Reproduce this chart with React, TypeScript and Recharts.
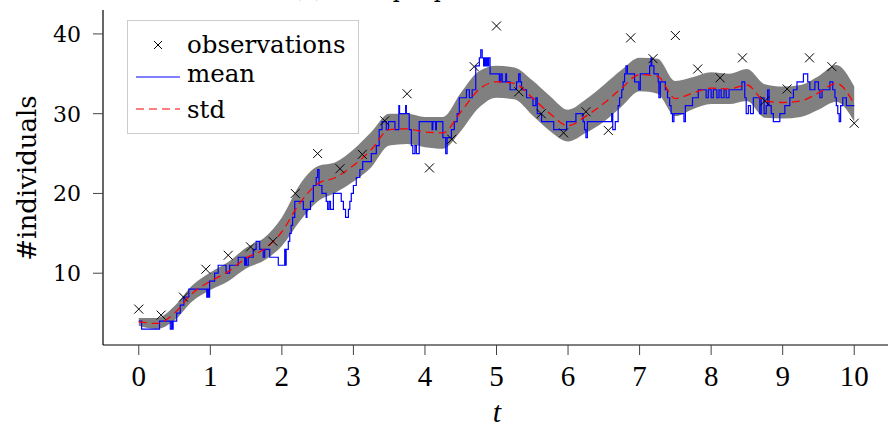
import React from 'react'
import { ComposedChart, Area, Line, Scatter, XAxis, YAxis } from 'recharts'

// smooth curve grid
const gridT = [0, 0.25, 0.5, 0.75, 1, 1.25, 1.5, 1.75, 2, 2.25, 2.5, 2.75, 3, 3.25, 3.5, 3.75, 4, 4.25, 4.5, 4.75, 5,
  5.25, 5.5, 5.75, 6, 6.25, 6.5, 6.75, 7, 7.25, 7.5, 7.75, 8, 8.25, 8.5, 8.75, 9, 9.25, 9.5, 9.75, 10]
const meanVals = [3.9, 3.7, 5.0, 7.5, 9.0, 10.2, 11.9, 13.0, 15.2, 18.8, 21.2, 22.0, 23.5, 25.5, 28.0, 28.1, 27.7,
  27.6, 30.2, 33.0, 34.0, 33.8, 32.0, 30.0, 28.5, 29.7, 31.3, 33.2, 34.9, 34.7, 31.9, 32.6, 33.2, 33.1, 33.6, 31.6,
  31.4, 31.6, 32.6, 33.8, 31.2]
const stdVals = [0.5, 0.7, 0.9, 1.0, 1.1, 1.2, 1.3, 1.4, 1.8, 2.3, 2.2, 1.9, 2.0, 2.2, 2.0, 1.9, 1.9, 2.0, 2.4, 2.3,
  2.0, 2.0, 2.2, 2.2, 2.0, 2.1, 2.3, 2.3, 2.1, 2.2, 2.2, 2.0, 2.0, 1.9, 2.0, 2.1, 2.0, 2.0, 2.1, 2.3, 2.2]

// one simulated path (step function)
const pathT = [0, 0.04, 0.29, 0.44, 0.46, 0.465, 0.48, 0.53, 0.58, 0.63, 0.7, 0.95, 0.96, 0.975, 0.99, 1.06, 1.11,
  1.22, 1.27, 1.39, 1.48, 1.49, 1.505, 1.53, 1.6, 1.64, 1.69, 1.74, 1.76, 1.83, 1.95, 2.04, 2.05, 2.06, 2.09, 2.11,
  2.13, 2.15, 2.18, 2.3, 2.34, 2.35, 2.4, 2.44, 2.48, 2.5, 2.52, 2.56, 2.62, 2.64, 2.66, 2.68, 2.72, 2.83, 2.86,
  2.89, 2.93, 2.95, 2.97, 3.0, 3.04, 3.09, 3.13, 3.25, 3.32, 3.36, 3.4, 3.46, 3.49, 3.58, 3.635, 3.645, 3.73, 3.74,
  3.78, 3.81, 3.83, 3.86, 3.88, 3.92, 4.1, 4.11, 4.15, 4.16, 4.25, 4.29, 4.31, 4.37, 4.41, 4.45, 4.48, 4.58, 4.62,
  4.66, 4.71, 4.76, 4.78, 4.8, 4.82, 4.83, 4.84, 4.85, 4.86, 4.87, 4.88, 4.89, 4.91, 5.04, 5.06, 5.08, 5.13, 5.14,
  5.19, 5.28, 5.31, 5.33, 5.35, 5.42, 5.51, 5.55, 5.57, 5.63, 5.8, 5.98, 6.11, 6.21, 6.23, 6.25, 6.27, 6.61, 6.625,
  6.66, 6.7, 6.72, 6.75, 6.77, 6.79, 6.81, 6.83, 6.93, 6.99, 7.01, 7.14, 7.16, 7.17, 7.2, 7.26, 7.27, 7.29, 7.36,
  7.39, 7.42, 7.44, 7.46, 7.48, 7.62, 7.64, 7.74, 7.82, 7.93, 7.96, 8.0, 8.03, 8.08, 8.11, 8.14, 8.18, 8.21, 8.25,
  8.43, 8.47, 8.49, 8.52, 8.55, 8.59, 8.68, 8.7, 8.74, 8.77, 8.79, 8.81, 8.84, 8.87, 8.96, 9.03, 9.1, 9.15, 9.2,
  9.29, 9.35, 9.38, 9.45, 9.5, 9.52, 9.55, 9.66, 9.7, 9.73, 9.75, 9.77, 9.79, 9.81, 9.84, 9.89, 10.0]
const pathV = [4, 3, 4, 3, 4, 3, 4, 5, 6, 7, 8, 7, 8, 7, 9, 10, 11,
  10, 11, 12, 11, 12, 11, 12, 13, 14, 13, 12, 13, 12, 11, 13, 11, 13, 14, 15,
  16, 17, 19, 18, 17, 18, 19, 21, 22, 23, 21, 20, 19, 18, 19, 18, 20, 19, 18,
  17, 18, 19, 20, 21, 22, 23, 24, 25, 26, 28, 29, 28, 29, 28, 31, 30, 31, 30,
  28, 26, 25, 26, 25, 29, 28, 29, 28, 29, 27, 25, 27, 28, 29, 30, 32, 33, 32,
  33, 36, 37, 38, 37, 36, 37, 36, 37, 36, 37, 36, 37, 35, 34, 35, 34, 35, 34,
  33, 34, 35, 34, 33, 32, 31, 32, 30, 29, 28, 29, 30, 29, 28, 27, 29, 30, 28,
  29, 31, 32, 33, 34, 35, 36, 35, 34, 33, 35, 36, 37, 36, 35, 34, 32, 34, 33,
  32, 31, 30, 29, 30, 29, 31, 32, 33, 32, 33, 32, 33, 32, 33, 32, 33, 32, 33,
  34, 32, 30, 31, 30, 32, 30, 32, 30, 31, 33, 31, 30, 29, 30, 31, 32, 33, 34,
  35, 34, 33, 34, 33, 32, 33, 34, 33, 32, 31, 30, 29, 31, 32, 31, 31]

// observations every 10/32
const obsT = [0, 0.3125, 0.625, 0.9375, 1.25, 1.5625, 1.875, 2.1875, 2.5, 2.8125, 3.125, 3.4375, 3.75, 4.0625,
  4.375, 4.6875, 5, 5.3125, 5.625, 5.9375, 6.25, 6.5625, 6.875, 7.1875, 7.5, 7.8125, 8.125, 8.4375, 8.75, 9.0625,
  9.375, 9.6875, 10]
const obsV = [5.5, 4.75, 7.0, 10.5, 12.25, 13.3, 14.0, 20.0, 25.0, 23.1, 24.9, 29.1, 32.5, 23.2, 26.8, 35.9, 41.0,
  32.75, 30.0, 27.6, 30.25, 27.9, 39.5, 36.9, 39.8, 35.6, 34.5, 37.0, 31.6, 33.1, 37.0, 35.9, 28.8]

const xTicks = [0, 1, 2, 3, 4, 5, 6, 7, 8, 9, 10]
const yTicks = [10, 20, 30, 40]

const bandData = gridT.map((t, i) => ({ t, m: meanVals[i], band: [meanVals[i] - stdVals[i], meanVals[i] + stdVals[i]] }))
const pathData = pathT.map((t, i) => ({ t, v: pathV[i] }))
const obsData = obsT.map((t, i) => ({ t, y: obsV[i] }))

const serif = '"DejaVu Serif", serif'
const cmSerif = '"Liberation Serif", serif'

const XMark = (props: any) => {
  const { cx, cy } = props
  if (cx == null || cy == null) return null
  const r = 4.5
  return (
    <g stroke="#000" strokeWidth={1}>
      <line x1={cx - r} y1={cy - r} x2={cx + r} y2={cy + r} />
      <line x1={cx - r} y1={cy + r} x2={cx + r} y2={cy - r} />
    </g>
  )
}

const LegendBox = () => (
  <svg width={232} height={114} style={{ position: 'absolute', left: 127, top: 20 }}>
    <rect x={0.5} y={0.5} width={231} height={113} fill="rgba(255,255,255,0.85)" stroke="#cccccc" strokeWidth={1} />
    <g stroke="#000" strokeWidth={1}>
      <line x1={27} y1={21} x2={35} y2={29} />
      <line x1={27} y1={29} x2={35} y2={21} />
    </g>
    <text x={60} y={33} fontFamily={serif} fontSize={24.5}>observations</text>
    <line x1={9} y1={57} x2={53} y2={57} stroke="#0000ff" strokeWidth={1.2} />
    <text x={60} y={62} fontFamily={serif} fontSize={24.5}>mean</text>
    <line x1={9} y1={89} x2={53} y2={89} stroke="#ff0000" strokeWidth={1.2} strokeDasharray="8 5" />
    <text x={60} y={98} fontFamily={serif} fontSize={24.5}>std</text>
  </svg>
)

export default function App() {
  return (
    <div style={{ position: 'absolute', left: 0, top: 0, width: 888, height: 428, overflow: 'hidden', background: '#fff' }}>
      <ComposedChart width={890} height={428} margin={{ top: 10, right: 0, bottom: 0, left: 0 }}>
        <XAxis
          dataKey="t"
          type="number"
          domain={[-0.5, 10.5]}
          ticks={xTicks}
          height={83}
          tickSize={10}
          tickMargin={10}
          axisLine={{ stroke: '#000', strokeWidth: 1.2 }}
          tickLine={{ stroke: '#444', strokeWidth: 1 }}
          tick={{ fill: '#000', fontFamily: cmSerif, fontSize: 29 }}
        />
        <XAxis xAxisId="top" orientation="top" type="number" domain={[-0.5, 10.5]} height={0}
          tick={false} tickLine={false} axisLine={{ stroke: '#000', strokeWidth: 1.2 }} />
        <YAxis
          type="number"
          domain={[1, 43]}
          ticks={yTicks}
          width={103}
          tickSize={10}
          tickMargin={12}
          axisLine={{ stroke: '#000', strokeWidth: 1.2 }}
          tickLine={{ stroke: '#444', strokeWidth: 1 }}
          tick={{ fill: '#000', fontFamily: serif, fontSize: 22 }}
        />
        <Area data={bandData} dataKey="band" type="monotone" fill="#808080" fillOpacity={1} stroke="none"
          isAnimationActive={false} />
        <Line data={pathData} dataKey="v" type="stepAfter" stroke="#0000ff" strokeWidth={1.2} dot={false}
          isAnimationActive={false} />
        <Line data={bandData} dataKey="m" type="monotone" stroke="#ff0000" strokeWidth={1.3} strokeDasharray="8 5"
          dot={false} isAnimationActive={false} />
        <Scatter data={obsData} dataKey="y" shape={XMark} isAnimationActive={false} />
      </ComposedChart>
      <LegendBox />
      <svg width={888} height={12} style={{ position: 'absolute', left: 0, top: 0 }}>
        <text x={293} y={-3} fontFamily={serif} fontSize={22}>(a) Example path</text>
      </svg>
      <div style={{
        position: 'absolute', left: 27, top: 178, transform: 'translate(-50%, -50%) rotate(-90deg)',
        fontFamily: serif, fontSize: 26, whiteSpace: 'nowrap', color: '#000'
      }}>#individuals</div>
      <div style={{
        position: 'absolute', left: 497, top: 412, transform: 'translate(-50%, -50%)',
        fontFamily: cmSerif, fontStyle: 'italic', fontSize: 30, color: '#000'
      }}>t</div>
    </div>
  )
}
